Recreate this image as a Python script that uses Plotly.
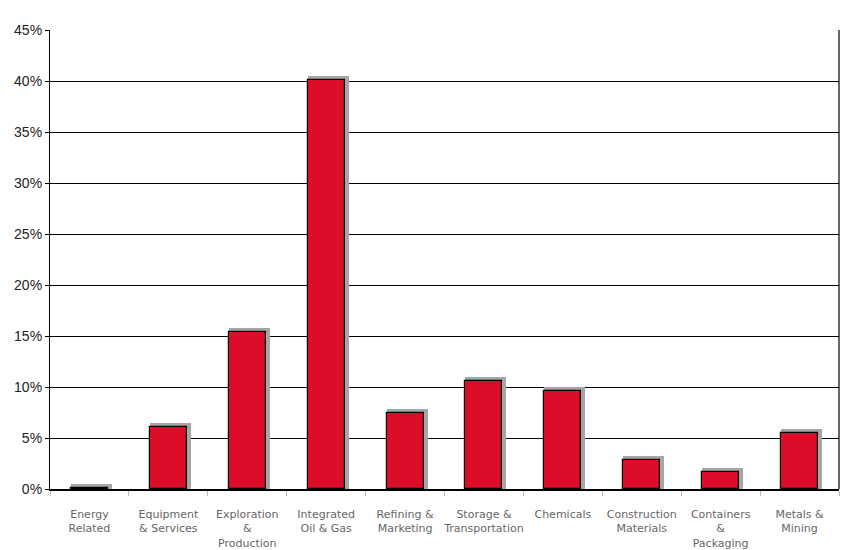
import plotly.graph_objects as go

categories = ["Energy<br>Related", "Equipment<br>& Services", "Exploration<br>&<br>Production",
              "Integrated<br>Oil & Gas", "Refining &<br>Marketing", "Storage &<br>Transportation",
              "Chemicals", "Construction<br>Materials", "Containers<br>&<br>Packaging",
              "Metals &<br>Mining"]
values = [0.1, 6.1, 15.4, 40.1, 7.45, 10.6, 9.6, 2.85, 1.7, 5.5]
y_ticks = [0, 5, 10, 15, 20, 25, 30, 35, 40, 45]
y_labels = [f"{t}%" for t in y_ticks]

bar_w = 0.47
shadow_dx = 0.05   # category units (~4px)
shadow_dy = 0.4    # percent (~4px)

fig = go.Figure()
fig.add_trace(go.Bar(
    x=categories, y=[v + shadow_dy for v in values],
    width=bar_w + shadow_dx, offset=-bar_w / 2,
    marker=dict(color="#a6a6a6", line=dict(width=0)),
    hoverinfo="skip", showlegend=False))
fig.add_trace(go.Bar(
    x=categories, y=values,
    width=bar_w, offset=-bar_w / 2,
    marker=dict(color="#dc0d29", line=dict(color="black", width=1.2)),
    showlegend=False))

fig.update_layout(
    width=858, height=550,
    margin=dict(l=50, r=19, t=30, b=61),
    barmode="overlay",
    plot_bgcolor="white", paper_bgcolor="white",
    xaxis=dict(type="category", tickson="boundaries", ticks="outside", ticklen=5,
               tickcolor="#bbbbbb", showline=True, linecolor="black", linewidth=1.5,
               mirror=False, showgrid=False, tickangle=0, automargin=False,
               ticklabelstandoff=14,
               tickfont=dict(family="DejaVu Sans", size=11, color="#666666"),
               range=[-0.5, 9.5]),
    yaxis=dict(range=[0, 45], tickvals=y_ticks, ticktext=y_labels,
               ticks="outside", ticklen=4, tickcolor="black", automargin=False,
               showgrid=True, gridcolor="black", gridwidth=1,
               showline=True, linecolor="black", linewidth=1.2,
               zeroline=False,
               tickfont=dict(family="Liberation Sans", size=14, color="#222222")),
    bargap=0,
)
fig.add_shape(type="line", xref="paper", yref="paper", x0=1, x1=1, y0=0, y1=1,
              line=dict(color="black", width=1.2))
fig.write_html("out.html")
